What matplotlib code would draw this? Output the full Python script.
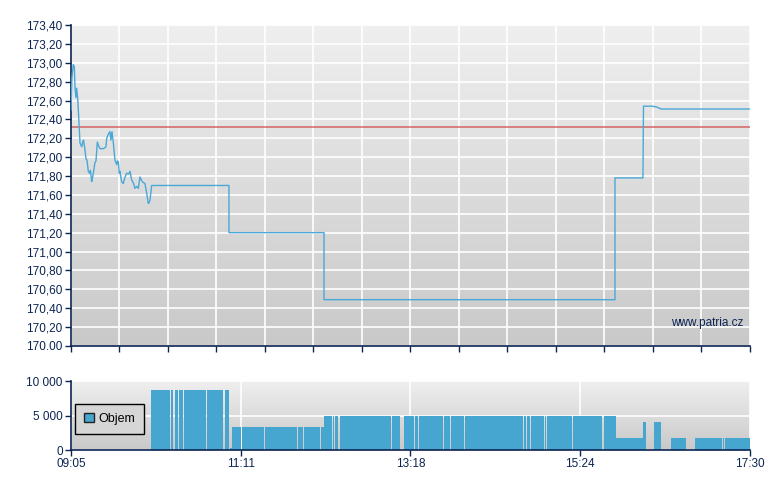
import numpy as np
import matplotlib
matplotlib.use('Agg')
import matplotlib.pyplot as plt
from matplotlib.colors import LinearSegmentedColormap
from matplotlib.patches import Patch

# price, minutes after 09:05
price_t = [0.0, 0.7, 1.7, 2.5, 3.0, 3.7, 4.2, 5.0, 5.9, 6.7, 8.0, 8.7, 9.3, 10.0, 11.2, 11.9,
           12.9, 13.8, 14.5, 15.4, 16.0, 16.6, 17.8, 18.6, 19.6, 20.5, 21.6, 24.0, 25.3, 26.0,
           26.6, 28.0, 29.0, 29.7, 30.5, 31.5, 32.7, 34.0, 34.6, 35.2, 35.9, 36.4, 37.7, 38.9,
           40.2, 41.4, 42.8, 43.9, 45.1, 46.3, 47.6, 48.9, 50.1, 51.3, 52.6, 53.8, 55.0, 56.3,
           57.5, 58.2, 58.8, 60.0, 117.5, 117.5, 188.2, 188.2, 404.6, 404.6, 425.4, 425.8,
           432.1, 435.8, 438.8, 505.0]
price_v = [172.50, 172.84, 172.98, 172.96, 172.73, 172.63, 172.73, 172.62, 172.38, 172.15,
           172.11, 172.16, 172.18, 172.12, 171.98, 171.97, 171.85, 171.83, 171.86, 171.74,
           171.78, 171.83, 171.94, 171.96, 172.16, 172.12, 172.09, 172.09, 172.10, 172.11,
           172.20, 172.25, 172.27, 172.18, 172.27, 172.15, 171.97, 171.92, 171.96, 171.95,
           171.83, 171.85, 171.74, 171.72, 171.79, 171.83, 171.82, 171.85, 171.76, 171.73,
           171.67, 171.69, 171.67, 171.79, 171.75, 171.73, 171.72, 171.62, 171.51, 171.52,
           171.55, 171.70, 171.70, 171.20, 171.20, 170.49, 170.49, 171.78, 171.78, 172.54,
           172.54, 172.53, 172.51, 172.51]
prev_close = 172.32

# volume bars: start / end (minutes after 09:05) and volume
vol_start = [59.5, 74.5, 77.0, 80.5, 83.9, 101.3, 114.2, 117.9,
             119.7, 127.3, 137.2, 144.1, 155.8, 169.0, 173.1, 186.1,
             188.2, 195.0, 196.2, 200.1, 239.0, 240.6, 247.7, 249.5, 255.5, 258.5, 261.4,
             264.4, 271.1, 277.3, 282.8, 286.7, 292.7, 305.3, 337.1, 338.8, 342.0, 352.4,
             354.2, 373.2, 378.2, 396.2,
             405.1, 425.4, 433.6, 446.3, 464.2, 469.6, 475.6, 479.3, 484.9, 486.2]
vol_end = [73.8, 76.2, 79.7, 83.1, 100.6, 113.4, 117.5, 119.4,
           126.6, 136.5, 143.4, 155.1, 168.2, 172.4, 185.3, 188.2,
           194.3, 195.5, 198.8, 237.8, 239.9, 244.7, 248.9, 254.8, 257.8, 260.8, 263.7,
           270.4, 276.7, 282.1, 286.0, 292.0, 304.6, 336.4, 338.1, 341.4, 351.8, 353.5,
           372.6, 377.5, 395.2, 405.1,
           425.2, 427.6, 438.8, 457.5, 469.0, 475.0, 478.7, 484.4, 485.7, 505.0]
vol_v = [8660] * 7 + [300] + [3320] * 8 + [5000] * 26 + [1730, 4040, 4040, 1730] + [1730] * 6

x_max = 505
main_ticks = np.linspace(0, x_max, 15)
vol_ticks = np.linspace(0, x_max, 5)
vol_tick_labels = ['09:05', '11:11', '13:18', '15:24', '17:30']
y_ticks = np.round(np.arange(170.0, 173.41, 0.2), 2)

navy = '#0b2452'
blue = '#46a6cf'
plt.rcParams['font.family'] = ['Liberation Sans', 'DejaVu Sans']
bg = LinearSegmentedColormap.from_list('bg', ['#c9c9c9', '#efefef'])

fig = plt.figure(figsize=(7.8, 4.9), dpi=100)
ax1 = fig.add_axes([0.091, 0.294, 0.8705, 0.655])
ax2 = fig.add_axes([0.091, 0.0816, 0.8705, 0.1408])


def style(ax):
    for s in ['top', 'right']:
        ax.spines[s].set_visible(False)
    for s in ['left', 'bottom']:
        ax.spines[s].set_color(navy)
        ax.spines[s].set_linewidth(1.2)
    ax.tick_params(colors=navy, labelcolor=navy, labelsize=8.5, length=4, width=1, pad=2)
    ax.grid(True, color='white', lw=1.2, zorder=1)
    ax.set_axisbelow(True)


# price chart
ax1.imshow(np.linspace(0, 1, 256)[:, None], extent=[0, x_max, 170.0, 173.4], origin='lower',
           aspect='auto', cmap=bg, zorder=0)
ax1.plot(price_t, price_v, color='#4aa8d6', lw=1.0, zorder=3)
ax1.axhline(prev_close, color='#d04848', lw=1.4, alpha=0.65, zorder=2)
ax1.set_xlim(0, x_max)
ax1.set_ylim(170.0, 173.4)
ax1.set_xticks(main_ticks)
ax1.set_xticklabels([])
ax1.set_yticks(y_ticks)
labels = ['{:.2f}'.format(v).replace('.', ',') for v in y_ticks]
labels[0] = '170.00'
ax1.set_yticklabels(labels)
style(ax1)
ax1.text(0.99, 0.072, 'www.patria.cz', transform=ax1.transAxes, ha='right', va='center',
         color=navy, fontsize=8.5, zorder=4)

# volume chart
ax2.imshow(np.linspace(0, 1, 256)[:, None], extent=[0, x_max, 0, 10000], origin='lower',
           aspect='auto', cmap=bg, zorder=0)
ax2.bar(vol_start, vol_v, width=np.array(vol_end) - np.array(vol_start), align='edge',
        color=blue, lw=0, zorder=2)
ax2.set_xlim(0, x_max)
ax2.set_ylim(0, 10000)
ax2.set_xticks(vol_ticks)
ax2.set_xticklabels(vol_tick_labels)
ax2.set_yticks([0, 5000, 10000])
ax2.set_yticklabels(['0', '5 000', '10 000'])
style(ax2)
leg = ax2.legend(handles=[Patch(facecolor=blue, edgecolor='#222222', label='Objem')],
                 loc='center left', bbox_to_anchor=(0.006, 0.45), borderaxespad=0,
                 fancybox=False, framealpha=1, facecolor='#d6d6d6', edgecolor='black',
                 fontsize=9, handlelength=0.8, handleheight=0.8, handletextpad=0.4,
                 borderpad=0.7)
leg.get_frame().set_linewidth(1.0)

fig.savefig('out.png', dpi=100)
